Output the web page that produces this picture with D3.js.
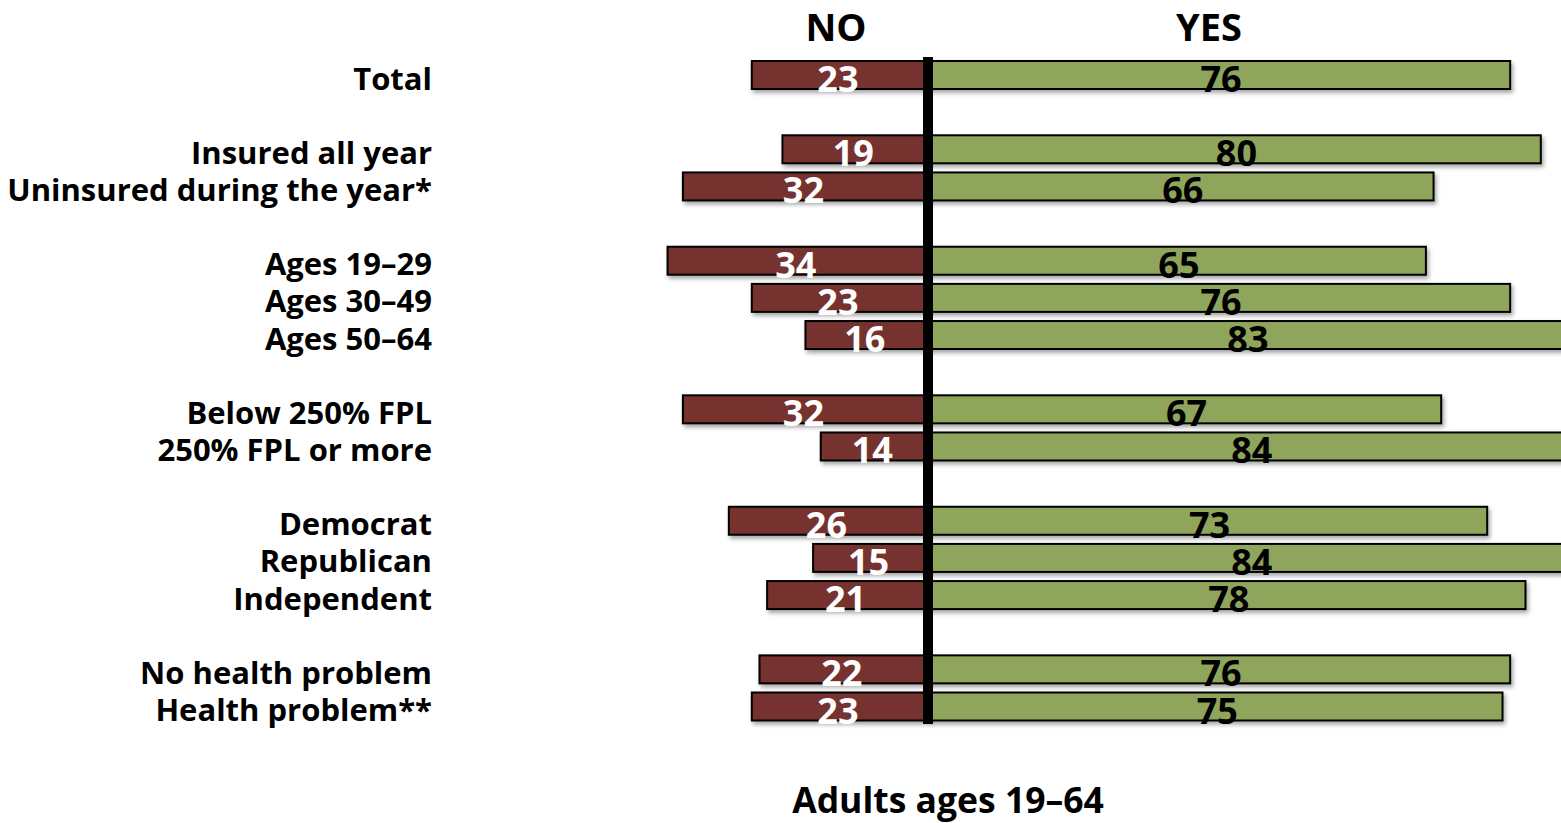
<!DOCTYPE html>
<html>
<head>
<meta charset="utf-8">
<script src="https://cdn.jsdelivr.net/npm/d3@7"></script>
<style>
  html, body { margin: 0; padding: 0; background: #fff; }
  svg { display: block; }
  text { font-family: "Open Sans", "Noto Sans", sans-serif; font-weight: 700; }
</style>
</head>
<body>
<svg id="chart" width="1561" height="823"></svg>
<script>
// Survey responses (percent) by subgroup
const categories = [
  "Total",
  "Insured all year", "Uninsured during the year*",
  "Ages 19–29", "Ages 30–49", "Ages 50–64",
  "Below 250% FPL", "250% FPL or more",
  "Democrat", "Republican", "Independent",
  "No health problem", "Health problem**"
];
const groupOf = [0, 1, 1, 2, 2, 2, 3, 3, 4, 4, 4, 5, 5];
const noValues  = [23, 19, 32, 34, 23, 16, 32, 14, 26, 15, 21, 22, 23];
const yesValues = [76, 80, 66, 65, 76, 83, 67, 84, 73, 84, 78, 76, 75];
const sideTitles = ["NO", "YES"];
const footTitle = "Adults ages 19–64";

const svg = d3.select("#chart");

// Rows: one slot per category plus an empty slot between groups
const slots = categories.map((c, i) => i + groupOf[i]);
const y = d3.scaleLinear().domain([0, 17]).range([75, 706.5]);
const barH = 28;

const cx = 928;
const xNo  = d3.scaleLinear().domain([0, 100]).range([cx, cx - 766]);
const xYes = d3.scaleLinear().domain([0, 100]).range([cx, cx + 766]);

const defs = svg.append("defs");
const f = defs.append("filter").attr("id", "shadow")
  .attr("x", "-5%").attr("y", "-30%").attr("width", "110%").attr("height", "180%");
f.append("feDropShadow").attr("dx", 2).attr("dy", 3).attr("stdDeviation", 2)
  .attr("flood-color", "#000").attr("flood-opacity", 0.35);

const rows = categories.map((c, i) => ({ c, no: noValues[i], yes: yesValues[i], s: slots[i] }));

// NO bars
svg.append("g").selectAll("rect").data(rows).join("rect")
  .attr("x", d => xNo(d.no))
  .attr("y", d => y(d.s) - barH / 2)
  .attr("width", d => cx - xNo(d.no))
  .attr("height", barH)
  .attr("fill", "#76302d")
  .attr("stroke", "#000").attr("stroke-width", 2)
  .attr("filter", "url(#shadow)");

// YES bars
svg.append("g").selectAll("rect").data(rows).join("rect")
  .attr("x", cx)
  .attr("y", d => y(d.s) - barH / 2)
  .attr("width", d => xYes(d.yes) - cx)
  .attr("height", barH)
  .attr("fill", "#8fa55c")
  .attr("stroke", "#000").attr("stroke-width", 2)
  .attr("filter", "url(#shadow)");

// Center divider
svg.append("line")
  .attr("x1", cx).attr("x2", cx)
  .attr("y1", 57).attr("y2", 724)
  .attr("stroke", "#000").attr("stroke-width", 10);

// Category labels
svg.append("g").selectAll("text").data(rows).join("text")
  .attr("x", 432)
  .attr("y", d => y(d.s) + 14.5)
  .attr("text-anchor", "end")
  .attr("font-size", 31)
  .attr("fill", "#000")
  .text(d => d.c);

// Value labels
svg.append("g").selectAll("text").data(rows).join("text")
  .attr("x", d => (xNo(d.no) + cx - 4) / 2)
  .attr("y", d => y(d.s) + 17)
  .attr("text-anchor", "middle")
  .attr("font-size", 36)
  .attr("fill", "#fff")
  .text(d => d.no);

svg.append("g").selectAll("text").data(rows).join("text")
  .attr("x", d => (xYes(d.yes) + cx + 4) / 2)
  .attr("y", d => y(d.s) + 17)
  .attr("text-anchor", "middle")
  .attr("font-size", 36)
  .attr("fill", "#000")
  .text(d => d.yes);

// Side titles
svg.append("text").attr("x", 836).attr("y", 41)
  .attr("text-anchor", "middle").attr("font-size", 38).text(sideTitles[0]);
svg.append("text").attr("x", 1209).attr("y", 41)
  .attr("text-anchor", "middle").attr("font-size", 38).text(sideTitles[1]);

// Footer title
svg.append("text").attr("x", 948).attr("y", 813)
  .attr("text-anchor", "middle").attr("font-size", 35.5).text(footTitle);
</script>
</body>
</html>
